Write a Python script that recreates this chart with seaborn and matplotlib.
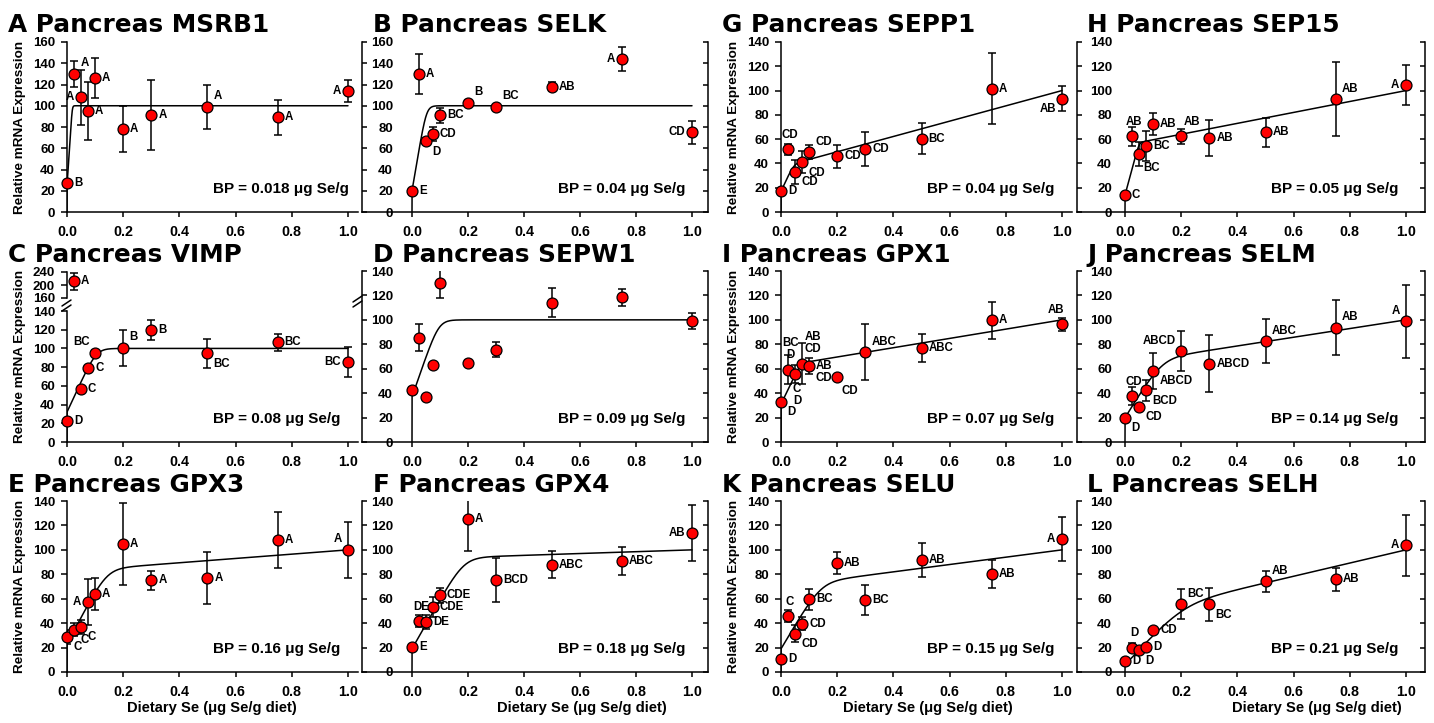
import numpy as np
import pandas as pd
import matplotlib
matplotlib.use("Agg")
import matplotlib.pyplot as plt
from matplotlib.lines import Line2D
import seaborn as sns

# ---------------------------------------------------------------- data
dose = [0.0, 0.025, 0.05, 0.075, 0.1, 0.2, 0.3, 0.5, 0.75, 1.0]

msrb1_mean = [27, 130, 108, 95, 126, 78, 91, 99, 89, 114]
msrb1_sem = [2, 12, 26, 27, 19, 21.5, 33, 20.5, 16.5, 10]
msrb1_grp = ["B", "A", "A", "A", "A", "A", "A", "A", "A", "A"]

selk_mean = [19.3, 130, 66.7, 73.6, 91, 103, 99, 118, 143.8, 74.9]
selk_sem = [2, 19, 3, 6.5, 7, 2, 2, 4.5, 11.5, 10.5]
selk_grp = ["E", "A", "D", "CD", "BC", "B", "BC", "AB", "A", "CD"]

vimp_mean = [22.5, 211, 57, 79.6, 95.4, 100.7, 120, 94.6, 106.4, 85.4]
vimp_sem = [2, 26, 2, 2, 3, 19, 10.5, 15.5, 8.7, 15.7]
vimp_grp = ["D", "A", "C", "C", "BC", "B", "B", "BC", "BC", "BC"]

sepw1_mean = [42.3, 85.4, 36.6, 62.8, 130.2, 65, 75.6, 114, 118.4, 99]
sepw1_sem = [3, 10.8, 2, 2, 12, 2, 6.4, 12, 7, 6.5]
sepw1_grp = [""] * 10

gpx3_mean = [28.7, 34.7, 36.8, 57.3, 64.1, 105, 75, 77, 107.8, 100.2]
gpx3_sem = [6, 5.6, 6, 19, 13, 33.5, 8, 21, 23, 23]
gpx3_grp = ["C", "C", "C", "A", "A", "A", "A", "A", "A", "A"]

gpx4_mean = [20.5, 41.5, 41, 53.2, 62.8, 125.3, 75.3, 87.9, 90.9, 113.8]
gpx4_sem = [2, 5, 6, 8.5, 6, 26, 18, 11.3, 11.6, 22.7]
gpx4_grp = ["E", "DE", "DE", "CDE", "CDE", "A", "BCD", "ABC", "ABC", "AB"]

sepp1_mean = [17, 51.6, 33, 41, 49.4, 45.8, 51.6, 60.4, 101.6, 93.3]
sepp1_sem = [2, 4.8, 10, 9, 6, 9.7, 14, 13, 29, 10.3]
sepp1_grp = ["D", "CD", "CD", "CD", "CD", "CD", "CD", "BC", "A", "AB"]

sep15_mean = [13.6, 62.2, 47.8, 54.6, 72.3, 62.2, 60.9, 65.5, 92.8, 104.5]
sep15_sem = [2, 7.8, 10, 12.3, 9, 6, 14.8, 12, 30.6, 16.5]
sep15_grp = ["C", "AB", "BC", "BC", "AB", "AB", "AB", "AB", "AB", "A"]

gpx1_mean = [32.8, 59.2, 55.4, 64.1, 62, 53.2, 73.7, 77.2, 99.6, 96.3]
gpx1_sem = [2, 12, 7.5, 17, 6.4, 2, 23, 11.4, 15.3, 5.2]
gpx1_grp = ["D", "BC\nD", "C\nD", "AB\nCD", "AB\nCD", "CD", "ABC", "ABC", "A", "AB"]

selm_mean = [19.9, 37.4, 28.7, 42.3, 58.1, 74.5, 64.1, 82.4, 93.6, 98.8]
selm_sem = [2, 7.5, 2, 8.8, 15, 16, 23.5, 17.9, 22.5, 29.7]
selm_grp = ["D", "CD", "CD", "BCD", "ABCD", "ABCD", "ABCD", "ABC", "AB", "A"]

selu_mean = [10.9, 45.9, 31.4, 39.6, 59.5, 89.2, 59.2, 91.4, 80.5, 108.6]
selu_sem = [2, 5, 6.8, 5.5, 8.6, 9, 12.3, 14, 11.5, 18]
selu_grp = ["D", "C", "CD", "CD", "BC", "AB", "BC", "AB", "AB", "A"]

selh_mean = [8.7, 19.9, 17.7, 20.5, 34.1, 55.4, 55.4, 74.2, 75.9, 103.7]
selh_sem = [2, 3.7, 2, 2, 2, 12.3, 13.6, 8.6, 9.5, 24.8]
selh_grp = ["D", "D", "D", "D", "CD", "BC", "BC", "AB", "AB", "A"]

# broken-line fits: intercept, initial slope, final slope toward 100 %, corner smoothing
msrb1_fit = (25, 4000, 0, 0.15)
selk_fit = (20, 1555, 0, 0.08)
vimp_fit = (32, 650, 0, 0.10)
sepw1_fit = (37, 660, 0, 0.10)
gpx3_fit = (23, 436, 17.6, 0.10)
gpx4_fit = (19, 404, 7.5, 0.10)
sepp1_fit = (17, 500, 63, 0.30)
sep15_fit = (14, 860, 45, 0.30)
gpx1_fit = (31, 480, 38, 0.30)
selm_fit = (20, 375, 35.6, 0.10)
selu_fit = (19, 390, 30, 0.10)
selh_fit = (6, 250, 54, 0.10)

breakpoints = ["0.018", "0.04", "0.08", "0.09", "0.16", "0.18",
               "0.04", "0.05", "0.07", "0.14", "0.15", "0.21"]

x_ticks = [0.0, 0.2, 0.4, 0.6, 0.8, 1.0]

# ---------------------------------------------------------------- label placement
# where each significance letter sits relative to its point
msrb1_where = ["r", "ur", "l", "r", "r", "r", "r", "ur", "r", "l"]
selk_where = ["r", "r", "lr", "r", "r", "ur", "ur", "r", "l", "l"]
vimp_where = ["r", "r", "r", "r", "ul", "ur", "r", "lr", "r", "l"]
sepw1_where = ["r"] * 10
gpx3_where = ["lr", "lr", "lr", "l", "r", "r", "r", "r", "r", "ul"]
gpx4_where = ["r", "u", "r", "r", "r", "r", "r", "r", "r", "l"]
sepp1_where = ["r", "u", "lr", "lr", "ur", "r", "r", "r", "r", "ll"]
sep15_where = ["r", "u", "dR", "r", "r", "uR", "r", "r", "ur", "l"]
gpx1_where = ["lr", "u", "d", "uR", "rD", "dR", "ur", "r", "r", "uL"]
selm_where = ["lr", "u", "lr", "lr", "lr", "ul", "r", "ur", "ur", "ul"]
selu_where = ["r", "u", "lr", "r", "r", "r", "r", "r", "r", "l"]
selh_where = ["r", "u", "lr", "r", "r", "ur", "lr", "ur", "r", "l"]

OFFS = {
    "r": ("left", "center", 5, 0),
    "l": ("right", "center", -5, 0),
    "ur": ("left", "center", 4.5, 7.5),
    "lr": ("left", "center", 4.5, -7.5),
    "ul": ("right", "center", -4, 7.5),
    "ll": ("right", "center", -4, -7.5),
    "u": ("center", "bottom", 1.5, 6),
    "uR": ("left", "bottom", 2, 6),
    "uL": ("right", "bottom", 1.5, 6),
    "d": ("center", "top", 1.5, -6),
    "dR": ("left", "top", 3, -6),
    "rD": ("left", "top", 4.5, 4.5),
}

# ---------------------------------------------------------------- styling
sns.set_theme(style="ticks")
plt.rcParams["font.family"] = ["Liberation Sans", "DejaVu Sans"]
plt.rcParams["font.weight"] = "bold"
plt.rcParams["axes.linewidth"] = 1.1
for key in ["text.color", "axes.labelcolor", "xtick.color", "ytick.color",
            "axes.edgecolor", "xtick.labelcolor", "ytick.labelcolor"]:
    plt.rcParams[key] = "black"

W, H = 1434, 723
fig = plt.figure(figsize=(W / 100, H / 100), dpi=100)
fig.patch.set_facecolor("white")

COLS = [
    dict(left=67, right=358, x0=67, unit=281, inner=False, title_x=8, ylab_x=20, xlab_x=212),
    dict(left=362, right=708, x0=412, unit=280, inner=True, lab_in=31, title_x=373, xlab_x=582),
    dict(left=781, right=1072, x0=781, unit=281, inner=False, title_x=722, ylab_x=734, xlab_x=928),
    dict(left=1077, right=1425, x0=1125, unit=281, inner=True, lab_in=35, title_x=1087, xlab_x=1317),
]
ROWS = [
    dict(top=42, bottom=212, title_y=32),
    dict(top=271, bottom=442, title_y=262),
    dict(top=501, bottom=672, title_y=492),
]

panels = [
    ("A Pancreas MSRB1", msrb1_mean, msrb1_sem, msrb1_grp, msrb1_where, msrb1_fit, 0, 0, 160),
    ("B Pancreas SELK", selk_mean, selk_sem, selk_grp, selk_where, selk_fit, 0, 1, 160),
    ("C Pancreas VIMP", vimp_mean, vimp_sem, vimp_grp, vimp_where, vimp_fit, 1, 0, 140),
    ("D Pancreas SEPW1", sepw1_mean, sepw1_sem, sepw1_grp, sepw1_where, sepw1_fit, 1, 1, 140),
    ("E Pancreas GPX3", gpx3_mean, gpx3_sem, gpx3_grp, gpx3_where, gpx3_fit, 2, 0, 140),
    ("F Pancreas GPX4", gpx4_mean, gpx4_sem, gpx4_grp, gpx4_where, gpx4_fit, 2, 1, 140),
    ("G Pancreas SEPP1", sepp1_mean, sepp1_sem, sepp1_grp, sepp1_where, sepp1_fit, 0, 2, 140),
    ("H Pancreas SEP15", sep15_mean, sep15_sem, sep15_grp, sep15_where, sep15_fit, 0, 3, 140),
    ("I Pancreas GPX1", gpx1_mean, gpx1_sem, gpx1_grp, gpx1_where, gpx1_fit, 1, 2, 140),
    ("J Pancreas SELM", selm_mean, selm_sem, selm_grp, selm_where, selm_fit, 1, 3, 140),
    ("K Pancreas SELU", selu_mean, selu_sem, selu_grp, selu_where, selu_fit, 2, 2, 140),
    ("L Pancreas SELH", selh_mean, selh_sem, selh_grp, selh_where, selh_fit, 2, 3, 140),
]


def add_axes_px(l, t, r, b):
    return fig.add_axes([l / W, 1 - b / H, (r - l) / W, (b - t) / H])


def fit_curve(params):
    y0, s1, s2, sm = params
    x = np.concatenate([np.linspace(0, 0.1, 300), np.linspace(0.1, 1.0, 300)[1:]])
    rise = y0 + s1 * x
    plateau = 100 - s2 * (1 - x)
    y = -np.logaddexp(-sm * rise, -sm * plateau) / sm
    return np.concatenate([[0.0], x]), np.concatenate([[0.0], y])


def style_axes(ax, c, ylim, yticks, bottom_axis=True):
    xlim = ((c["left"] - c["x0"]) / c["unit"], (c["right"] - c["x0"]) / c["unit"])
    ax.set_xlim(*xlim)
    ax.set_ylim(*ylim)
    ax.set_facecolor("none")
    ax.set_yticks(yticks)
    ax.set_yticklabels([str(v) for v in yticks])
    ax.spines["top"].set_visible(False)
    for s in ax.spines.values():
        s.set_linewidth(1.1)
        s.set_color("black")
    if c["inner"]:
        ax.spines["right"].set_visible(True)
        ax.tick_params(axis="y", direction="in", length=3.6, width=1.1,
                       left=True, right=True, labelleft=True, labelright=False,
                       pad=-c["lab_in"] * 0.72, labelsize=9.5, colors="black")
    else:
        ax.spines["right"].set_visible(False)
        ax.tick_params(axis="y", direction="out", length=4.3, width=1.1,
                       pad=4.3, labelsize=9.5, colors="black")
    if bottom_axis:
        ax.set_xticks(x_ticks)
        ax.set_xticklabels([f"{v:.1f}" for v in x_ticks])
        ax.tick_params(axis="x", direction="out", length=3.6, width=1.1,
                       pad=5.5, labelsize=10.3, colors="black")
    else:
        ax.spines["bottom"].set_visible(False)
        ax.set_xticks([])
    for lab in ax.get_xticklabels() + ax.get_yticklabels():
        lab.set_fontweight("bold")
    ax.grid(False)


def draw_points(ax, mean, sem, grp, where, lo, hi):
    idx = [i for i, m in enumerate(mean) if lo <= m <= hi]
    xs = [dose[i] for i in idx]
    ms = [mean[i] for i in idx]
    es = [sem[i] for i in idx]
    ax.errorbar(xs, ms, yerr=es, fmt="none", ecolor="black", elinewidth=1.1,
                capsize=2.9, capthick=1.1, zorder=2)
    df = pd.DataFrame({"dose": xs, "expr": ms})
    sns.scatterplot(data=df, x="dose", y="expr", ax=ax, s=62, color="#ff0000",
                    edgecolor="black", linewidth=0.9, zorder=3, clip_on=False,
                    legend=False)
    for i in idx:
        if not grp[i]:
            continue
        ha, va, dx, dy = OFFS[where[i]]
        ax.annotate(grp[i], (dose[i], mean[i]), xytext=(dx, dy),
                    textcoords="offset points", ha=ha, va=va, fontsize=8.3,
                    fontweight="bold", linespacing=1.0, annotation_clip=False,
                    color="black", zorder=4)
    ax.set_xlabel("")
    ax.set_ylabel("")


for k, (title, mean, sem, grp, where, fit, r, ci, ymax) in enumerate(panels):
    c = COLS[ci]
    rw = ROWS[r]
    bp = breakpoints[k]

    if title.startswith("C "):
        # split axis: 0-140 below, 160-240 above
        ax = add_axes_px(c["left"], 311, c["right"], rw["bottom"])
        ax_top = add_axes_px(c["left"], 272, c["right"], 298)
        style_axes(ax, c, (0, 140), list(range(0, 141, 20)))
        style_axes(ax_top, c, (160, 240), [160, 200, 240], bottom_axis=False)
        draw_points(ax_top, mean, sem, grp, where, 150, 300)
        # break marks on the split axis
        for (xa, ya) in [(62, 306), (62, 311), (353, 302), (353, 307)]:
            fig.add_artist(Line2D([xa / W, (xa + 9) / W],
                                  [1 - ya / H, 1 - (ya - 6) / H],
                                  color="black", lw=1.1))
    else:
        ax = add_axes_px(c["left"], rw["top"], c["right"], rw["bottom"])
        style_axes(ax, c, (0, ymax), list(range(0, ymax + 1, 20)))

    cx, cy = fit_curve(fit)
    sns.lineplot(x=cx, y=cy, ax=ax, color="black", linewidth=1.1, sort=False,
                 estimator=None, zorder=2.5)
    draw_points(ax, mean, sem, grp, where, 0, 150)

    ax.annotate(f"BP = {bp} \u03bcg Se/g", xy=(0.52, 0),
                xycoords=("data", "axes fraction"), xytext=(0, 16.5),
                textcoords="offset points", ha="left", va="center",
                fontsize=11, fontweight="bold", color="black")

    fig.text(c["title_x"] / W, 1 - rw["title_y"] / H, title, ha="left",
             va="baseline", fontsize=17.8, fontweight="bold",
             family=["DejaVu Sans"], color="black")

    if not c["inner"]:
        yc = (rw["top"] + rw["bottom"]) / 2
        fig.text(c["ylab_x"] / W, 1 - yc / H, "Relative mRNA Expression",
                 rotation=90, ha="center", va="center", fontsize=9.7,
                 fontweight="bold", color="black")
    if r == 2:
        fig.text(c["xlab_x"] / W, 1 - 708 / H, "Dietary Se (\u03bcg Se/g diet)",
                 ha="center", va="center", fontsize=10.6, fontweight="bold",
                 color="black")

fig.savefig("out.png", dpi=100, facecolor="white")
